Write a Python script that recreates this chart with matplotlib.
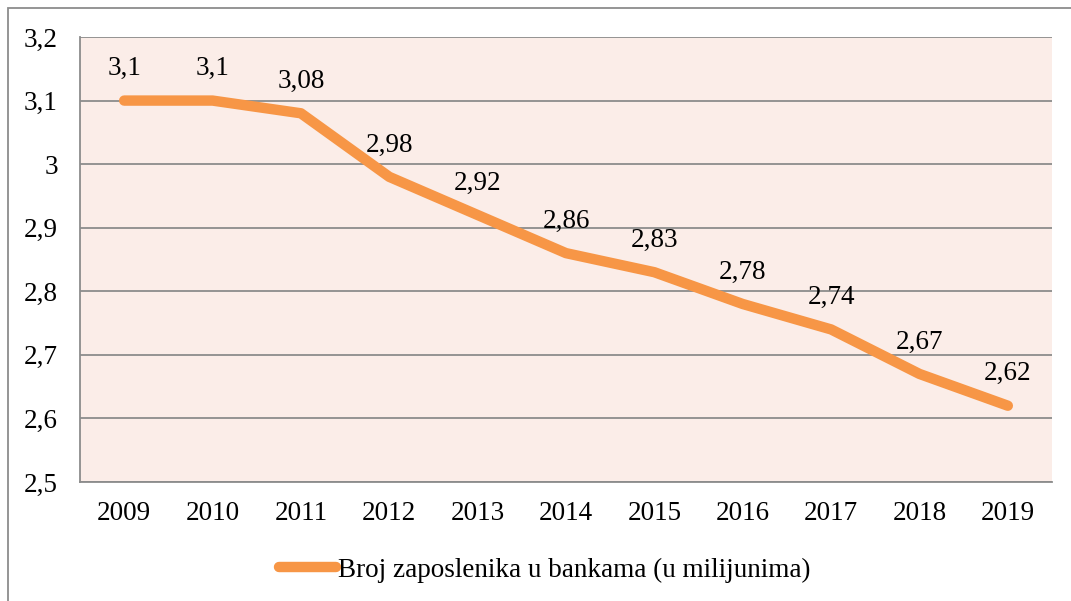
import matplotlib.pyplot as plt
from matplotlib.patches import Rectangle

# data
years = ['2009', '2010', '2011', '2012', '2013', '2014', '2015', '2016', '2017', '2018', '2019']
zaposleni = [3.1, 3.1, 3.08, 2.98, 2.92, 2.86, 2.83, 2.78, 2.74, 2.67, 2.62]
y_ticks = [2.5, 2.6, 2.7, 2.8, 2.9, 3.0, 3.1, 3.2]
y_labels = ['2,5', '2,6', '2,7', '2,8', '2,9', '3', '3,1', '3,2']
serija = 'Broj zaposlenika u bankama (u milijunima)'

plt.rcParams['font.family'] = ['Liberation Serif', 'DejaVu Serif']
fs = 19.5

fig = plt.figure(figsize=(10.71, 6.01), dpi=100)
ax = fig.add_axes([80 / 1071, 1 - 482 / 601, 972 / 1071, 445 / 601])
ax.set_facecolor('#FBEDE8')

x = list(range(len(years)))
ax.plot(x, zaposleni, color='#F79646', linewidth=7.5, solid_capstyle='round',
        solid_joinstyle='round', label=serija, zorder=3)

for xi, v in zip(x, zaposleni):
    txt = ('%.2f' % v).rstrip('0').rstrip('.').replace('.', ',')
    ax.annotate(txt, (xi, v), xytext=(0, 23), textcoords='offset points',
                ha='center', va='center', fontsize=fs, color='black')

ax.set_xlim(-0.5, len(years) - 0.5)
ax.set_ylim(2.5, 3.2)
ax.set_xticks(x)
ax.set_xticklabels(years, fontsize=fs)
ax.set_yticks(y_ticks)
ax.set_yticklabels(y_labels, fontsize=fs)
ax.tick_params(axis='x', length=0, pad=14)
ax.tick_params(axis='y', length=0, pad=16)

ax.grid(axis='y', color='#8C8C8C', linewidth=1.3, zorder=1)
ax.set_axisbelow(True)
for s in ['top', 'right']:
    ax.spines[s].set_visible(False)
for s in ['left', 'bottom']:
    ax.spines[s].set_color('#8C8C8C')
    ax.spines[s].set_linewidth(1.3)

# outer chart border
fig.patches.append(Rectangle((8 / 1071, -0.1), 1.2, 1.1 - 8 / 601,
                             transform=fig.transFigure, fill=False,
                             edgecolor='#8C8C8C', linewidth=1.3))

fig.legend(loc='center', bbox_to_anchor=(545 / 1071, 1 - 570 / 601),
           frameon=False, fontsize=fs, handlelength=2.1, handletextpad=0.08)

fig.savefig('out.png', dpi=100)
